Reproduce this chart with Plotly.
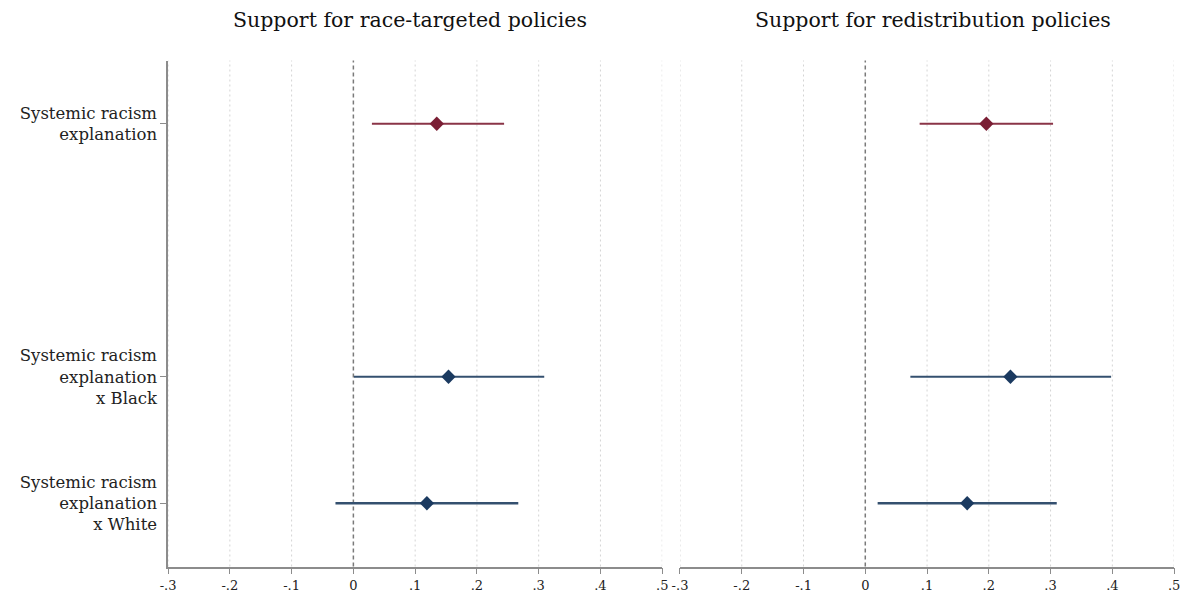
import plotly.graph_objects as go

# Coefficient estimates with 95% confidence intervals
terms = ["Systemic racism<br>explanation",
         "Systemic racism<br>explanation<br>x Black",
         "Systemic racism<br>explanation<br>x White"]
term_pos = [1, 3, 4]

race_est = [0.135, 0.154, 0.119]
race_lo = [0.030, 0.001, -0.029]
race_hi = [0.244, 0.309, 0.267]

redis_est = [0.196, 0.235, 0.165]
redis_lo = [0.088, 0.073, 0.020]
redis_hi = [0.304, 0.398, 0.310]

panel_titles = ["Support for race-targeted policies",
                "Support for redistribution policies"]

xtick_vals = [-0.3, -0.2, -0.1, 0, 0.1, 0.2, 0.3, 0.4, 0.5]
xtick_text = ["-.3", "-.2", "-.1", "0", ".1", ".2", ".3", ".4", ".5"]

RED = "#7a1e34"
RED_LINE = "#8a3447"
NAVY = "#1b3a60"
NAVY_LINE = "#34506f"
SERIF = "DejaVu Serif, Liberation Serif, serif"

W, H = 1189, 599
left_dom = [162 / W, 662 / W]
right_dom = [680 / W, 1180 / W]
y_dom = [1 - 566.5 / H, 1 - 60.5 / H]

fig = go.Figure()

panels = [(race_est, race_lo, race_hi, "x", "y"),
          (redis_est, redis_lo, redis_hi, "x2", "y2")]

for est, lo, hi, xa, ya in panels:
    for i in range(len(est)):
        is_first = i == 0
        mcol = RED if is_first else NAVY
        lcol = RED_LINE if is_first else NAVY_LINE
        lw = 1.8 if i < 2 else 2.6
        fig.add_trace(go.Scatter(
            x=[est[i]], y=[term_pos[i]],
            mode="markers",
            marker=dict(symbol="diamond", size=11, color=mcol),
            error_x=dict(type="data", symmetric=False,
                         array=[hi[i] - est[i]], arrayminus=[est[i] - lo[i]],
                         color=lcol, thickness=lw, width=0),
            xaxis=xa, yaxis=ya, showlegend=False, hoverinfo="x",
        ))

axis_common = dict(
    range=[-0.3, 0.5], tickvals=xtick_vals, ticktext=xtick_text,
    showgrid=False, zeroline=False, showline=True,
    linecolor="#8c8c8c", linewidth=1.5,
    ticks="outside", ticklen=6, tickcolor="#8c8c8c", tickwidth=1.2,
    tickfont=dict(family=SERIF, size=13, color="#222"),
    fixedrange=True,
)

fig.update_layout(
    width=W, height=H,
    margin=dict(l=0, r=0, t=0, b=0),
    paper_bgcolor="white", plot_bgcolor="white",
    xaxis=dict(domain=left_dom, anchor="y", **axis_common),
    xaxis2=dict(domain=right_dom, anchor="y2", **axis_common),
    yaxis=dict(domain=y_dom, anchor="x", range=[4.5, 0.5],
               tickvals=term_pos, ticktext=terms,
               showgrid=False, zeroline=False, showline=True,
               linecolor="#8c8c8c", linewidth=1.5,
               ticks="outside", ticklen=6, tickcolor="#8c8c8c",
               tickfont=dict(family=SERIF, size=16.5, color="#222"),
               automargin=False),
    yaxis2=dict(domain=y_dom, anchor="x2", range=[4.5, 0.5],
                showticklabels=False, showgrid=False, zeroline=False,
                showline=False, ticks=""),
)

for xa, ya in [("x", "y"), ("x2", "y2")]:
    # Light dotted grid at every tick except zero
    for v in xtick_vals:
        if v == 0:
            continue
        fig.add_shape(type="line", xref=xa, yref=f"{ya} domain",
                      x0=v, x1=v, y0=0, y1=1,
                      line=dict(color="#d4d4d4", width=1, dash="2px,3px"),
                      layer="below")
    # Reference line at zero
    fig.add_shape(type="line", xref=xa, yref=f"{ya} domain",
                  x0=0, x1=0, y0=0, y1=1,
                  line=dict(color="#7a7a7a", width=1.5, dash="4px,3px"),
                  layer="below")

# Panel titles
for title, cx in zip(panel_titles, [407, 936]):
    fig.add_annotation(text=title, x=cx / W, y=1 - 20 / H,
                       xref="paper", yref="paper", showarrow=False,
                       xanchor="center", yanchor="middle",
                       font=dict(family=SERIF, size=20.5, color="#111"))

fig.write_html("out.html")
